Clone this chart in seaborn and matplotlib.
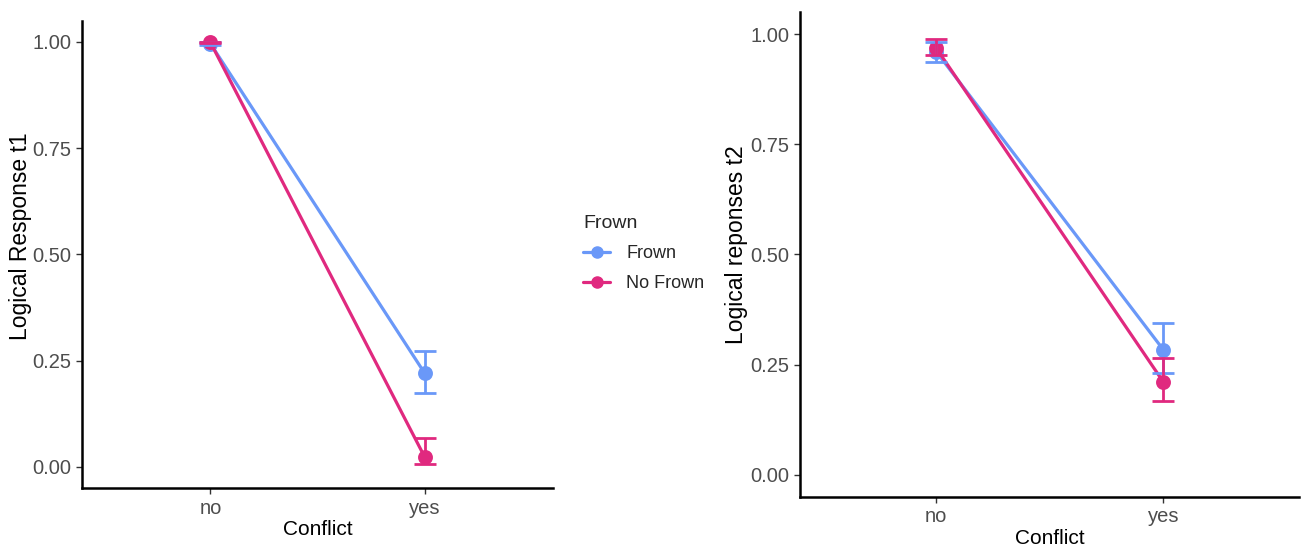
import numpy as np
import pandas as pd
import matplotlib
matplotlib.use("Agg")
import matplotlib.pyplot as plt
import seaborn as sns
from matplotlib.lines import Line2D

sns.set_theme(style="ticks")
plt.rcParams["font.family"] = ["Liberation Sans", "DejaVu Sans"]

conflict = ["no", "yes"]
groups = ["Frown", "No Frown"]
colors = {"Frown": "#6A98F8", "No Frown": "#E0297F"}

# panel 1: Logical Response t1
t1_mean = {"Frown": [0.996, 0.221], "No Frown": [0.999, 0.024]}
t1_low = {"Frown": [0.993, 0.174], "No Frown": [0.997, 0.007]}
t1_high = {"Frown": [0.999, 0.273], "No Frown": [1.000, 0.068]}

# panel 2: Logical reponses t2
t2_mean = {"Frown": [0.960, 0.284], "No Frown": [0.968, 0.211]}
t2_low = {"Frown": [0.936, 0.230], "No Frown": [0.952, 0.168]}
t2_high = {"Frown": [0.982, 0.345], "No Frown": [0.989, 0.264]}


def make_df(means):
    rows = []
    for g in groups:
        for c, m in zip(conflict, means[g]):
            rows.append(dict(Conflict=c, Frown=g, value=m))
    return pd.DataFrame(rows)


def draw_panel(ax, means, lows, highs, ylabel, label_xy):
    df = make_df(means)
    sns.pointplot(data=df, x="Conflict", y="value", hue="Frown",
                  hue_order=groups, palette=colors, order=conflict,
                  errorbar=None, markers="o", markersize=9,
                  linewidth=2.3, legend=False, ax=ax)
    for g in groups:
        m = np.array(means[g])
        lo = m - np.array(lows[g])
        hi = np.array(highs[g]) - m
        ax.errorbar(np.arange(len(conflict)), m, yerr=[lo, hi], fmt="none",
                    ecolor=colors[g], elinewidth=2, capsize=8, capthick=2,
                    zorder=3)
    ax.set_xlim(-0.6, 1.6)
    ax.set_ylim(-0.05, 1.05)
    ax.set_yticks([0, 0.25, 0.5, 0.75, 1.0])
    ax.set_yticklabels(["0.00", "0.25", "0.50", "0.75", "1.00"])
    ax.set_xlabel("Conflict", fontsize=15, color="black", labelpad=2)
    ax.set_ylabel(ylabel, fontsize=16.5, color="black")
    ax.yaxis.set_label_coords(*label_xy)
    ax.tick_params(axis="both", labelsize=14.5, labelcolor="#4D4D4D",
                   color="#333333", length=4, width=1)
    for s in ["top", "right"]:
        ax.spines[s].set_visible(False)
    for s in ["left", "bottom"]:
        ax.spines[s].set_linewidth(1.8)
        ax.spines[s].set_color("black")


fig = plt.figure(figsize=(13.06, 5.46), dpi=100)
ax1 = fig.add_axes([0.0628, 0.106, 0.3606, 0.856])
ax2 = fig.add_axes([0.6126, 0.090, 0.3824, 0.888])

draw_panel(ax1, t1_mean, t1_low, t1_high, "Logical Response t1", (-0.106, 0.54))
draw_panel(ax2, t2_mean, t2_low, t2_high, "Logical reponses t2", (-0.104, 0.52))

handles = [Line2D([], [], color=colors[g], marker="o", markersize=8,
                  linewidth=2.3) for g in groups]
leg = fig.legend(handles, groups, title="Frown", loc="upper left",
                 bbox_to_anchor=(0.434, 0.636), frameon=False,
                 fontsize=13, title_fontsize=14, handlelength=1.5,
                 alignment="left", labelspacing=0.72, handletextpad=0.9)

fig.savefig("out.png", dpi=100)
